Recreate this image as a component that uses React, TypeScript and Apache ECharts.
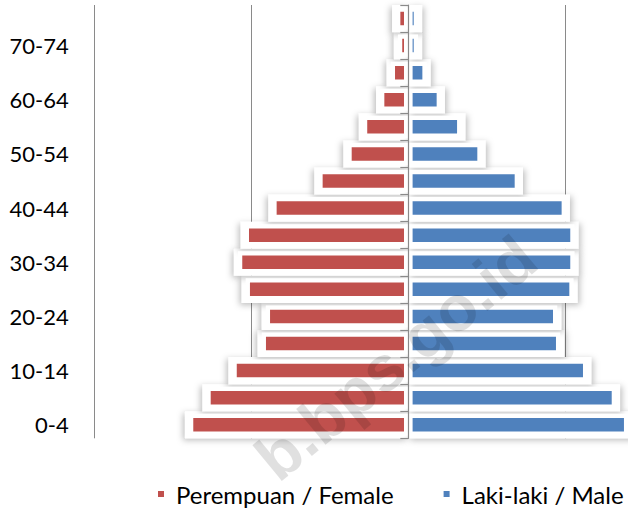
import React, { useEffect, useRef } from "react";
import * as echarts from "echarts";

const ageGroups = ["0-4", "5-9", "10-14", "15-19", "20-24", "25-29", "30-34", "35-39", "40-44", "45-49", "50-54", "55-59", "60-64", "65-69", "70-74", "75+"];
const female = [13970, 12860, 11200, 9340, 9080, 10360, 10850, 10420, 8660, 5730, 3880, 2890, 1800, 1120, 660, 780];
const male = [14010, 13230, 11400, 9680, 9490, 10530, 10590, 10590, 10040, 7050, 4670, 3380, 2080, 1170, 620, 620];
const femaleName = "Perempuan / Female";
const maleName = "Laki-laki / Male";
const watermark = "b.bps.go.id";

const FONT = "Lato, 'Open Sans', sans-serif";
const RED = "#C0504D";
const BLUE = "#4F81BD";

export default function App() {
  const ref = useRef<HTMLDivElement>(null);
  useEffect(() => {
    if (!ref.current) return;
    const chart = echarts.init(ref.current, null, { renderer: "svg" });
    const W = 22.1;
    const boxSeries = (name: string, values: number[], sign: number) => ({
      name,
      type: "custom",
      silent: true,
      z: 1,
      encode: { x: 0, y: 1 },
      data: values.map((v, i) => [sign * v, i]),
      renderItem: (_params: any, api: any) => {
        const v = api.value(0);
        const idx = api.value(1);
        const p0 = api.coord([0, idx]);
        const p1 = api.coord([v, idx]);
        const band = api.size([0, 1])[1];
        const ext = 4;
        const end = p1[0] + sign * ext;
        const x = Math.min(p0[0], end);
        const width = Math.abs(end - p0[0]);
        return {
          type: "rect",
          shape: { x, y: p0[1] - band / 2, width, height: band },
          style: {
            fill: "#ffffff",
            shadowBlur: 6,
            shadowColor: "rgba(0,0,0,0.26)",
            shadowOffsetX: sign * 2,
            shadowOffsetY: 2,
          },
        };
      },
    });
    const fillStyle = (c: string) => ({ color: c, borderColor: "#ffffff", borderWidth: 4.3 });
    chart.setOption({
      animation: false,
      backgroundColor: "#ffffff",
      grid: { left: 94.3, width: 628, top: 5, bottom: 71.7, outerBoundsMode: "none", containLabel: false },
      xAxis: {
        type: "value",
        min: -20000,
        max: 20000,
        interval: 10000,
        axisLabel: { show: false },
        axisLine: { show: false },
        axisTick: { show: false },
        splitLine: { show: true, lineStyle: { color: "#8a8a8a", width: 1 } },
      },
      yAxis: [
        {
          type: "category",
          data: ageGroups,
          z: 10,
          axisLine: { show: true, onZero: true, lineStyle: { color: "#8a8a8a", width: 1.2 } },
          axisTick: { show: true, length: 8, lineStyle: { color: "#8a8a8a", width: 1.2 } },
          axisLabel: { show: false },
        },
        {
          type: "category",
          data: ageGroups,
          position: "left",
          axisLine: { show: false, onZero: false },
          axisTick: { show: false },
          axisLabel: { show: true, interval: 1, margin: 25.5, fontSize: 22, color: "#000", fontFamily: FONT },
        },
      ],
      legend: {
        data: [femaleName, maleName],
        left: 158,
        top: 482,
        width: 600,
        padding: 0,
        itemWidth: 6,
        itemHeight: 6,
        itemGap: 50,
        icon: "rect",
        itemStyle: { borderWidth: 0, shadowBlur: 0 },
        textStyle: { fontSize: 24, color: "#000", fontFamily: FONT, padding: [0, 0, 0, 7] },
      },
      series: [
        boxSeries("boxF", female, -1),
        boxSeries("boxM", male, 1),
        { name: femaleName, type: "bar", z: 2, barWidth: W, barGap: "-100%", data: female.map((v) => -v), itemStyle: fillStyle(RED) },
        { name: maleName, type: "bar", z: 2, barWidth: W, barGap: "-100%", data: male, itemStyle: fillStyle(BLUE) },
      ],
      graphic: [
        {
          type: "text",
          x: 396,
          y: 358,
          rotation: 0.69,
          z: 100,
          silent: true,
          style: {
            text: watermark,
            fill: "rgba(0,0,0,0.12)",
            font: "bold 64px 'Liberation Sans', Arial, sans-serif",
            textAlign: "center",
            textVerticalAlign: "middle",
          },
        },
      ],
    });
    return () => chart.dispose();
  }, []);
  return <div ref={ref} style={{ position: "fixed", left: 0, top: 0, width: 628, height: 510 }} />;
}
